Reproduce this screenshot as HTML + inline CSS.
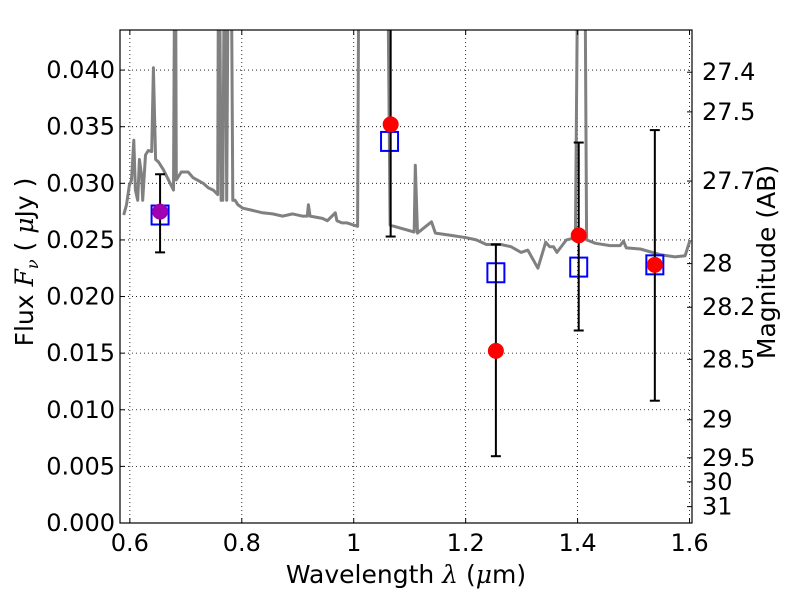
<!DOCTYPE html>
<html><head><meta charset="utf-8"><style>
body{margin:0;background:#fff;}
svg{display:block;font-family:"DejaVu Sans","Liberation Sans",sans-serif;}
</style></head><body>
<svg id="chart" width="800" height="600" viewBox="0 0 800 600" xmlns="http://www.w3.org/2000/svg"></svg>
<script>
// ---- data ----
const specWave = [0.589,0.594,0.599,0.603,0.607,0.610,0.614,0.617,0.621,0.623,0.628,0.633,0.639,0.642,0.646,0.651,0.660,0.669,0.678,0.681,0.683,0.692,0.704,0.713,0.731,0.740,0.749,0.757,0.759,0.763,0.766,0.770,0.773,0.777,0.780,0.784,0.788,0.793,0.802,0.820,0.837,0.855,0.873,0.891,0.908,0.917,0.919,0.922,0.944,0.953,0.967,0.970,0.979,0.988,1.007,1.010,1.059,1.065,1.108,1.110,1.114,1.139,1.146,1.174,1.201,1.219,1.237,1.263,1.281,1.299,1.311,1.329,1.343,1.350,1.357,1.363,1.380,1.396,1.402,1.412,1.416,1.432,1.458,1.476,1.482,1.487,1.512,1.547,1.574,1.592,1.601];
const specFlux = [0.0272,0.0281,0.0298,0.0303,0.0338,0.0294,0.0285,0.0321,0.0307,0.0285,0.0325,0.0329,0.0328,0.0402,0.0321,0.0319,0.0312,0.0303,0.0294,0.0600,0.0303,0.0310,0.0310,0.0305,0.0300,0.0296,0.0294,0.0290,0.0600,0.0285,0.0285,0.0600,0.0285,0.0600,0.0600,0.0285,0.0285,0.0281,0.0278,0.0276,0.0274,0.0273,0.0271,0.0273,0.0271,0.0271,0.0281,0.0271,0.0269,0.0267,0.0274,0.0267,0.0265,0.0265,0.0262,0.0600,0.0600,0.0263,0.0257,0.0316,0.0256,0.0266,0.0256,0.0254,0.0252,0.0250,0.0246,0.0246,0.0244,0.0239,0.0241,0.0225,0.0248,0.0244,0.0244,0.0239,0.0250,0.0252,0.0600,0.0600,0.0250,0.0247,0.0245,0.0245,0.0249,0.0243,0.0242,0.0237,0.0235,0.0236,0.0250];
const obsWave = [0.654,1.066,1.254,1.402,1.538];
const obsFlux = [0.0275,0.0352,0.0152,0.0254,0.0228];
const obsLow  = [0.0239,0.0253,0.0059,0.0170,0.0108];
const obsHigh = [0.0308,0.0600,0.0246,0.0336,0.0347];
const modelFlux = [0.0272,0.0337,0.0221,0.0226,0.0228];
const modelWave = [0.654,1.064,1.254,1.402,1.538];
const xTicks = [0.6,0.8,1.0,1.2,1.4,1.6];
const xTickLabels = ["0.6","0.8","1","1.2","1.4","1.6"];
const yTicks = [0,0.005,0.01,0.015,0.02,0.025,0.03,0.035,0.04];
const yTickLabels = ["0.000","0.005","0.010","0.015","0.020","0.025","0.030","0.035","0.040"];
const magTicks = [27.4,27.5,27.7,28,28.2,28.5,29,29.5,30,31];
const magTickLabels = ["27.4","27.5","27.7","28","28.2","28.5","29","29.5","30","31"];

const L=120,R=692,T=30,B=523;
const xmin=0.5824,xmax=1.6044,ymin=0,ymax=0.04354;
const xs=v=>L+(v-xmin)/(xmax-xmin)*(R-L);
const ys=v=>B-(v-ymin)/(ymax-ymin)*(B-T);
const NS="http://www.w3.org/2000/svg";
const svg=document.getElementById('chart');
function mk(tag,attrs,parent){const e=document.createElementNS(NS,tag);for(const k in attrs)e.setAttribute(k,attrs[k]);(parent||svg).appendChild(e);return e;}

const defs=mk('defs',{});
const cp=mk('clipPath',{id:'clip'},defs);
mk('rect',{x:L,y:T,width:R-L,height:B-T},cp);

const grid=mk('g',{});


xTicks.forEach(t=>{const x=xs(t);if(x>L&&x<R)mk('line',{x1:x,x2:x,y1:T,y2:B,stroke:'#000','stroke-width':0.8,'stroke-dasharray':'1,3'},grid);});
yTicks.forEach(t=>{const y=ys(t);if(y>T&&y<B)mk('line',{x1:L,x2:R,y1:y,y2:y,stroke:'#000','stroke-width':0.8,'stroke-dasharray':'1,3'},grid);});

const g=mk('g',{'clip-path':'url(#clip)'});
let d='';specWave.forEach((w,i)=>{d+=(i?'L':'M')+xs(w).toFixed(1)+','+ys(specFlux[i]).toFixed(1);});
const sp=mk('path',{d:d,fill:'none',stroke:'#808080','stroke-width':3,'stroke-linejoin':'round'},g);



modelWave.forEach((w,i)=>{
  const r=mk('rect',{x:xs(w)-8.5,y:ys(modelFlux[i])-9.5,width:17,height:19,fill:'none',stroke:'#0000ff','stroke-width':2},g);
  
  
});
obsWave.forEach((w,i)=>{
  const x=xs(w);
  const eb=mk('g',{},g);
  
  
  mk('line',{x1:x,x2:x,y1:ys(obsHigh[i]),y2:ys(obsLow[i]),stroke:'#000','stroke-width':2},eb);
  mk('line',{x1:x-5,x2:x+5,y1:ys(obsHigh[i]),y2:ys(obsHigh[i]),stroke:'#000','stroke-width':2},eb);
  mk('line',{x1:x-5,x2:x+5,y1:ys(obsLow[i]),y2:ys(obsLow[i]),stroke:'#000','stroke-width':2},eb);
});
obsWave.forEach((w,i)=>{
  const c=mk('circle',{cx:xs(w),cy:ys(obsFlux[i]),r:8,fill:i===0?'#a000b0':'#ff0000'},g);
  
  
});

const fr=mk('rect',{x:L,y:T,width:R-L,height:B-T,fill:'none',stroke:'#000','stroke-width':1.2});



xTicks.forEach((t,i)=>{const x=xs(t);
  mk('line',{x1:x,x2:x,y1:B,y2:B-5,stroke:'#000'});mk('line',{x1:x,x2:x,y1:T,y2:T+5,stroke:'#000'});
  const tx=mk('text',{x:x,y:B+28,'text-anchor':'middle','font-size':24});tx.textContent=xTickLabels[i];
  
  
});
yTicks.forEach((t,i)=>{const y=ys(t);
  mk('line',{x1:L,x2:L+5,y1:y,y2:y,stroke:'#000'});
  const tx=mk('text',{x:L-5,y:y+8,'text-anchor':'end','font-size':24});tx.textContent=yTickLabels[i];
  
  
});
magTicks.forEach((m,i)=>{const f=Math.pow(10,-(m-23.9)/2.5);const y=ys(f);
  mk('line',{x1:R,x2:R-5,y1:y,y2:y,stroke:'#000'});
  const tx=mk('text',{x:R+10,y:y+8,'font-size':24});tx.textContent=magTickLabels[i];
  
  
});
</script>
<svg style="position:absolute;left:0;top:0" width="800" height="600">
<text x="406" y="583" text-anchor="middle" font-size="25" font-family="DejaVu Sans, sans-serif">Wavelength  <tspan font-style="italic" font-family="DejaVu Serif, serif">λ</tspan> (<tspan font-style="italic" font-family="DejaVu Serif, serif">μ</tspan>m)</text>
<text transform="translate(33,262) rotate(-90)" text-anchor="middle" font-size="25" font-family="DejaVu Sans, sans-serif">Flux  <tspan font-style="italic" font-family="DejaVu Serif, serif">F<tspan font-size="16" dy="5">ν</tspan></tspan><tspan dy="-5">  ( </tspan><tspan font-style="italic" font-family="DejaVu Serif, serif">μ</tspan>Jy )</text>
<text transform="translate(775,262) rotate(-90)" text-anchor="middle" font-size="25" font-family="DejaVu Sans, sans-serif">Magnitude (AB)</text>
</svg>
</body></html>
